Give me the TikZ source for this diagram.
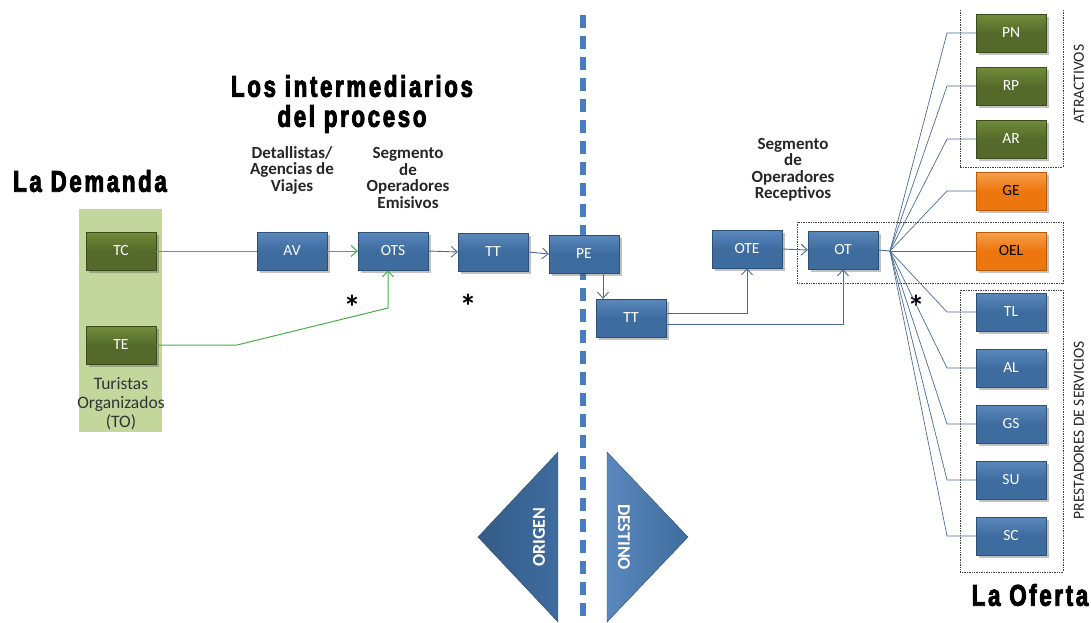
\documentclass[tikz,border=0pt]{standalone}
\usepackage{fontspec}
\setmainfont{Carlito}
\newfontfamily\titlefont{Liberation Sans}[FakeStretch=0.74,LetterSpace=9,BoldFeatures={FakeBold=3}]
\usetikzlibrary{arrows.meta,shadows,calc}
\definecolor{bfill}{HTML}{3E6C9F}
\definecolor{btop}{HTML}{5A88BC}
\definecolor{bdraw}{HTML}{2C4F78}
\definecolor{gfill}{HTML}{556A2A}
\definecolor{gtop}{HTML}{718C3A}
\definecolor{gdraw}{HTML}{3C4C1C}
\definecolor{ofill}{HTML}{EE760F}
\definecolor{otop}{HTML}{F5A04A}
\definecolor{odraw}{HTML}{B85A08}
\definecolor{bggreen}{HTML}{C3D69B}
\definecolor{lblue}{HTML}{4A6A98}
\definecolor{lgreen}{HTML}{45AF48}
\definecolor{dashblue}{HTML}{4A7DBF}
\tikzset{
  box/.style={rectangle, minimum width=70pt, minimum height=38pt, inner sep=0pt,
    font=\fontsize{15.5}{15.5}\selectfont, text=white,
    drop shadow={shadow xshift=3pt, shadow yshift=-3pt, opacity=0.35, fill=black!70}},
  bbox/.style={box, draw=bdraw, top color=btop, bottom color=bfill, middle color=bfill},
  gbox/.style={box, draw=gdraw, top color=gtop, bottom color=gfill, middle color=gfill},
  obox/.style={box, draw=odraw, top color=otop, bottom color=ofill, middle color=ofill, text=black},
  glink/.style={draw=lgreen, line width=1pt},
  blink/.style={draw=lblue, line width=0.9pt},
  tip/.style={-{Straight Barb[length=6pt,width=11pt]}},
  lbl/.style={align=center, font=\fontsize{17}{16.5}\selectfont\bfseries, text=black!85},
  bigtitle/.style={font=\titlefont\bfseries\fontsize{30}{30}\selectfont, text=black, align=center},
  dotbox/.style={draw=black!75, densely dotted, line width=0.7pt},
  star/.style={font=\fontsize{34}{34}\selectfont\bfseries}
}
\begin{document}
\begin{tikzpicture}[x=1pt,y=-1pt]
\useasboundingbox (0,0) rectangle (1091,622);
% background green panel
\fill[bggreen] (79,209) rectangle (162,432);
% dashed divider
\draw[dashblue, line width=6.5pt, dash pattern=on 13pt off 8pt] (583,15) -- (583,622);
% titles
\node[bigtitle] (tint) at (352,104) {Los intermediarios\\del proceso};
\node[bigtitle] (tdem) at (90,181) {La Demanda};
\node[bigtitle] (tofe) at (1030,595) {La Oferta};
% labels
\node[lbl] (lav) at (292,170) {Detallistas/\\Agencias de\\Viajes};
\node[lbl] (lots) at (408,178) {Segmento\\de\\Operadores\\Emisivos};
\node[lbl] (lote) at (793,170) {Segmento\\de\\Operadores\\Receptivos};
\node[align=center, font=\fontsize{17.5}{19}\selectfont, text=black!80] (lto) at (121,404) {Turistas\\Organizados\\(TO)};
% dotted group boxes
\draw[dotbox] (960,10) -- (960,167) -- (1063,167) -- (1063,10);
\draw[dotbox] (797,222) rectangle (1063,283);
\draw[dotbox] (960,290) rectangle (1063,572);
\node[rotate=90, font=\fontsize{15.5}{15.5}\selectfont, text=black!85] (latr) at (1079,84) {ATRACTIVOS};
\node[rotate=90, font=\fontsize{15.5}{15.5}\selectfont, text=black!85] (lpre) at (1079,430) {PRESTADORES DE SERVICIOS};
% origin / destination triangles
\shade[left color=bfill!85!black, right color=bfill, draw=bfill!70!black] (478,537) -- (558,452) -- (558,622) -- cycle;
\shade[left color=btop, right color=bfill, draw=bfill!70!black] (607,452) -- (688,537) -- (607,622) -- cycle;
\node[rotate=90, text=white, font=\fontsize{18}{18}\selectfont\bfseries] (lori) at (539,537) {ORIGEN};
\node[rotate=-90, text=white, font=\fontsize{18}{18}\selectfont\bfseries] (ldes) at (624,537) {DESTINO};
% nodes
\node[gbox] (tc) at (121,251) {TC};
\node[gbox] (te) at (121,345) {TE};
\node[bbox] (av) at (292,251) {AV};
\node[bbox] (ots) at (393,251) {OTS};
\node[bbox] (tt1) at (493,252) {TT};
\node[bbox] (pe) at (584,254) {PE};
\node[bbox] (tt2) at (631,318) {TT};
\node[bbox] (ote) at (747,249) {OTE};
\node[bbox] (ot) at (843,250) {OT};
\node[gbox] (pn) at (1011,33) {PN};
\node[gbox] (rp) at (1011,86) {RP};
\node[gbox] (ar) at (1011,139) {AR};
\node[obox] (ge) at (1011,191) {GE};
\node[obox] (oel) at (1011,251) {OEL};
\node[bbox] (tl) at (1011,312) {TL};
\node[bbox] (al) at (1011,368) {AL};
\node[bbox] (gs) at (1011,424) {GS};
\node[bbox] (su) at (1011,480) {SU};
\node[bbox] (sc) at (1011,536) {SC};
% asterisks
\node[star] (s1) at (352,307) {*};
\node[star] (s2) at (468,306) {*};
\node[star] (s3) at (916,307) {*};
% connectors
\draw[glink] (tc.east) -- (av.west);
\draw[glink, tip] (av.east) -- (ots.west);
\coordinate (teb) at (237,345);
\coordinate (tec) at (388,308);
\draw[glink, tip] (te.east) -- (teb) -- (tec) -- (tec |- ots.south);
\draw[blink, tip] (ots.east) -- (tt1.west);
\draw[blink, tip] (tt1.east) -- (pe.west);
\draw[blink, tip] ([xshift=19pt]pe.south) -- ([xshift=19pt]pe.south |- tt2.north);
\draw[blink, tip] ([yshift=5pt]tt2.east) -| (ote.south);
\draw[blink, tip] ([yshift=-6pt]tt2.east) -| (ot.south);
\draw[blink, tip] (ote.east) -- (ot.west);
\coordinate (fan) at (890,251);
\draw[blink] (ot.east) -- (fan);
\foreach \n in {pn,rp,ar,ge,tl,al,gs,su,sc}{
  \draw[lblue, line width=0.7pt] (fan) -- (947,0 |- \n.west) -- (\n.west);
}
\draw[lblue, line width=0.7pt] (fan) -- (oel.west);
\end{tikzpicture}
\end{document}
